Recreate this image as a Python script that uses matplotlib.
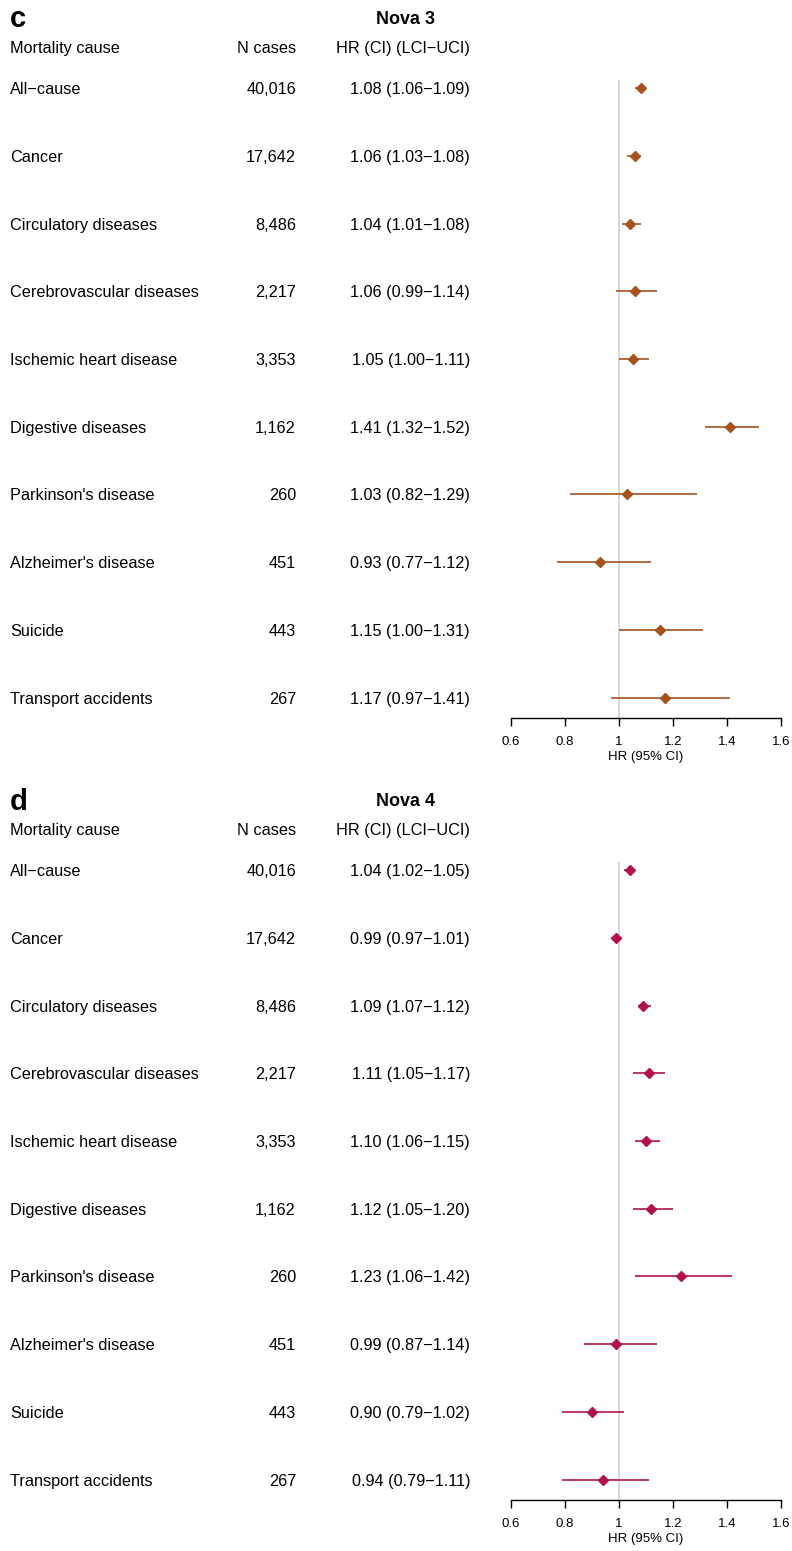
import matplotlib
matplotlib.use("Agg")
import matplotlib.pyplot as plt
import matplotlib.transforms as mtransforms

plt.rcParams['font.family'] = ['Liberation Sans', 'DejaVu Sans']

causes = ["All\u2212cause", "Cancer", "Circulatory diseases", "Cerebrovascular diseases",
          "Ischemic heart disease", "Digestive diseases", "Parkinson's disease",
          "Alzheimer's disease", "Suicide", "Transport accidents"]
n_cases = ["40,016", "17,642", "8,486", "2,217", "3,353", "1,162", "260", "451", "443", "267"]

nova3_hr = [1.08, 1.06, 1.04, 1.06, 1.05, 1.41, 1.03, 0.93, 1.15, 1.17]
nova3_lci = [1.06, 1.03, 1.01, 0.99, 1.00, 1.32, 0.82, 0.77, 1.00, 0.97]
nova3_uci = [1.09, 1.08, 1.08, 1.14, 1.11, 1.52, 1.29, 1.12, 1.31, 1.41]

nova4_hr = [1.04, 0.99, 1.09, 1.11, 1.10, 1.12, 1.23, 0.99, 0.90, 0.94]
nova4_lci = [1.02, 0.97, 1.07, 1.05, 1.06, 1.05, 1.06, 0.87, 0.79, 0.79]
nova4_uci = [1.05, 1.01, 1.12, 1.17, 1.15, 1.20, 1.42, 1.14, 1.02, 1.11]

x_ticks = [0.6, 0.8, 1.0, 1.2, 1.4, 1.6]
x_ticklabels = ["0.6", "0.8", "1", "1.2", "1.4", "1.6"]

W, H = 792, 1551
fig = plt.figure(figsize=(W / 100, H / 100), dpi=100)

def fx(px):
    return px / W

def fy(py):
    return 1 - py / H

panels = [
    dict(letter="c", title="Nova 3", hr=nova3_hr, lci=nova3_lci, uci=nova3_uci,
         color="#A4521E", top=80, bottom=718, title_y=19, head_y=47),
    dict(letter="d", title="Nova 4", hr=nova4_hr, lci=nova4_lci, uci=nova4_uci,
         color="#B0124C", top=862, bottom=1500, title_y=802, head_y=829),
]

fs = 11.7
for p in panels:
    ax = fig.add_axes([fx(511), fy(p["bottom"]), fx(781) - fx(511),
                       (p["bottom"] - p["top"]) / H])
    n = len(causes)
    ax.set_ylim(n - 1 + 0.3, -0.12)
    ax.set_xlim(0.6, 1.6)
    ax.axvline(1.0, color="#d4d4d4", lw=1.3, zorder=0)
    ys = list(range(n))
    ax.hlines(ys, p["lci"], p["uci"], color=p["color"], lw=1.2, zorder=2)
    ax.plot(p["hr"], ys, ls="none", marker="D", markersize=5.2,
            color=p["color"], zorder=3)
    for s in ["top", "right", "left"]:
        ax.spines[s].set_visible(False)
    ax.spines["bottom"].set_linewidth(1.0)
    ax.set_yticks([])
    ax.set_xticks(x_ticks)
    ax.set_xticklabels(x_ticklabels, fontsize=9.5)
    ax.tick_params(axis="x", direction="out", length=6, width=1.0, pad=7)
    ax.set_xlabel("HR (95% CI)", fontsize=9.5, labelpad=2)
    ax.patch.set_alpha(0)

    tr = mtransforms.blended_transform_factory(fig.transFigure, ax.transData)
    for i in range(n):
        fig.text(fx(10), i, causes[i], transform=tr, ha="left", va="center_baseline", fontsize=fs)
        fig.text(fx(296), i, n_cases[i], transform=tr, ha="right", va="center_baseline", fontsize=fs)
        txt = "{:.2f} ({:.2f}\u2212{:.2f})".format(p["hr"][i], p["lci"][i], p["uci"][i])
        fig.text(fx(470), i, txt, transform=tr, ha="right", va="center_baseline", fontsize=fs)

    fig.text(fx(10), fy(p["title_y"]), p["letter"], ha="left", va="center",
             fontsize=21, fontweight="bold")
    fig.text(fx(406), fy(p["title_y"]), p["title"], ha="center", va="center",
             fontsize=13, fontweight="bold")
    fig.text(fx(10), fy(p["head_y"]), "Mortality cause", ha="left", va="center_baseline", fontsize=fs)
    fig.text(fx(296), fy(p["head_y"]), "N cases", ha="right", va="center_baseline", fontsize=fs)
    fig.text(fx(470), fy(p["head_y"]), "HR (CI) (LCI\u2212UCI)", ha="right", va="center_baseline", fontsize=fs)

fig.savefig("out.png", dpi=100, facecolor="white")
